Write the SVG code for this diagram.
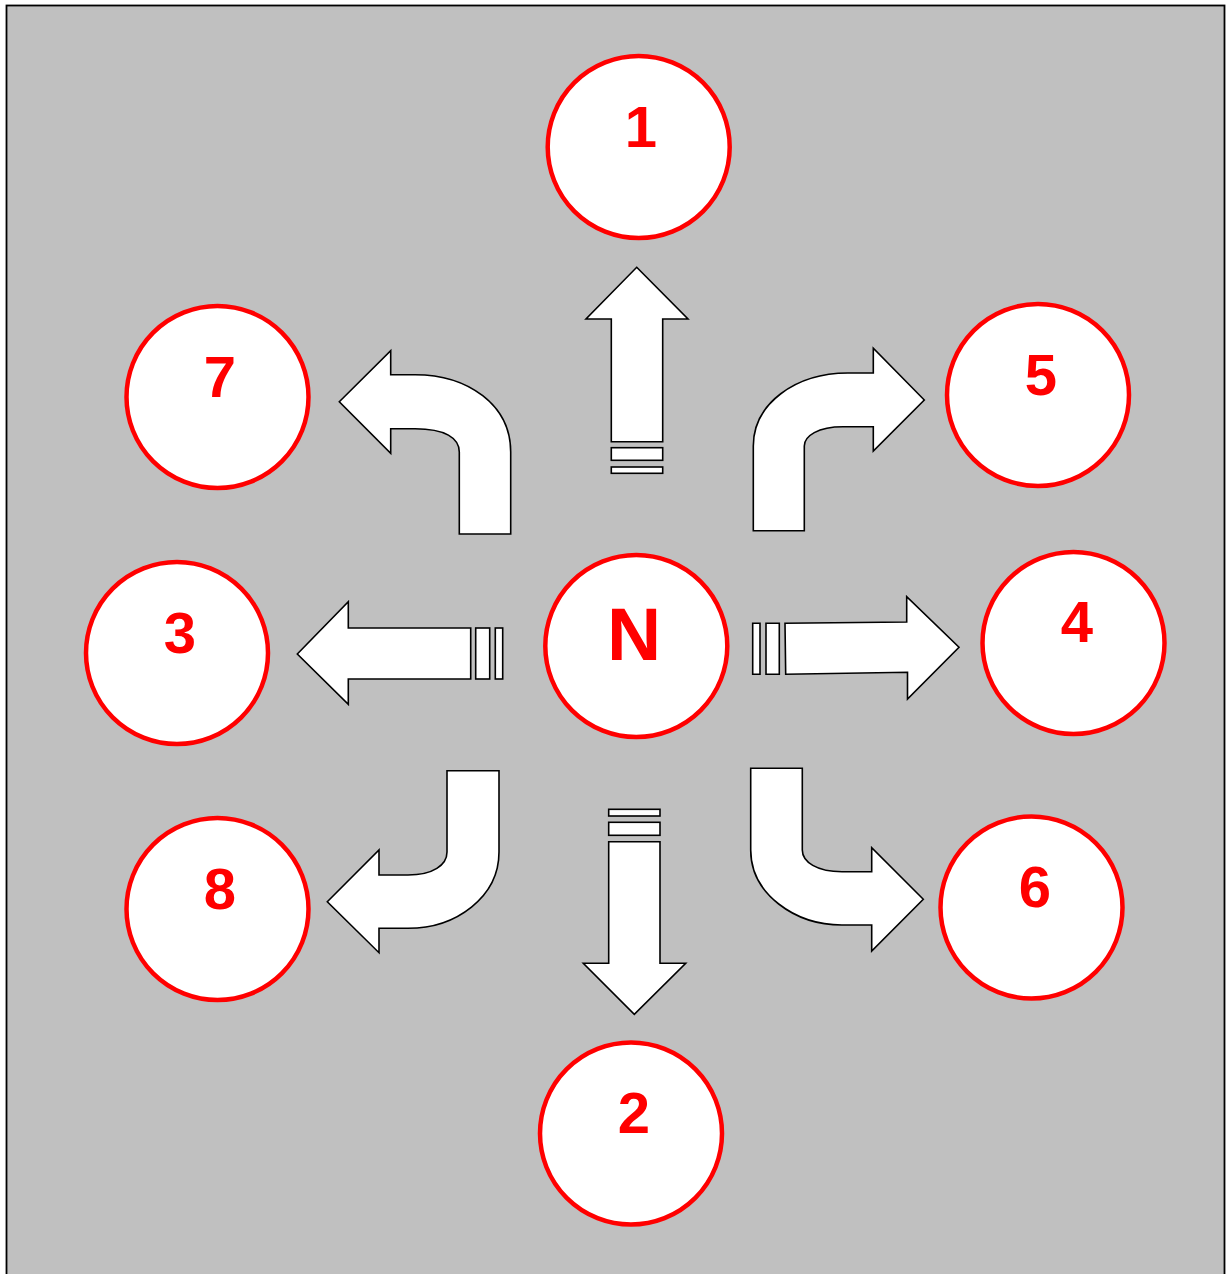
<svg xmlns="http://www.w3.org/2000/svg" width="1226" height="1274" viewBox="0 0 1226 1274">
<style>
.node circle{fill:#fff;stroke:#ff0000;stroke-width:4.5}
.node text{font-family:"Liberation Sans",Arial,sans-serif;font-weight:bold;fill:#ff0000;text-anchor:middle;font-size:58px}
.arr{fill:#fff;stroke:#000;stroke-width:1.6;stroke-linejoin:miter}
</style>
<rect x="6.5" y="5.5" width="1218" height="1290" fill="#c0c0c0" stroke="#000" stroke-width="1.8"/>
<g id="connectors">
<!-- up to 1 -->
<path class="arr" d="M636.7 267.3 L688 319 L662.7 319 L662.7 441.7 L611.3 441.7 L611.3 319 L586 319 Z"/>
<rect class="arr" x="611.3" y="447.7" width="51.4" height="12.6"/>
<rect class="arr" x="611.3" y="467" width="51.4" height="6.3"/>
<!-- down to 2 -->
<rect class="arr" x="608.7" y="809.3" width="51.3" height="6.7"/>
<rect class="arr" x="608.7" y="822.3" width="51.3" height="13"/>
<path class="arr" d="M608.7 841.7 L660 841.7 L660 963.3 L685.7 963.3 L634.3 1014.3 L583.3 963.3 L608.7 963.3 Z"/>
<!-- left to 3 -->
<path class="arr" d="M297.3 654 L348.3 601.7 L348.3 628 L470.7 628 L470.7 679 L348.3 679 L348.3 704.3 Z"/>
<rect class="arr" x="475.7" y="628" width="14" height="51"/>
<rect class="arr" x="495.3" y="628" width="7.4" height="51"/>
<!-- right to 4 -->
<path class="arr" d="M752.7 623.3 L760 623.3 L760 674.3 L752.7 674.3 Z"/>
<path class="arr" d="M766 623.3 L779.3 623.3 L779.3 674.3 L766 674.3 Z"/>
<path class="arr" d="M785 623.3 L906.7 622 L906.7 596.7 L959 647.3 L907.5 699 L907.5 672.3 L785.7 674.3 Z"/>
<!-- bent to 7 -->
<path class="arr" d="M339.3 401.7 L390.7 350.7 L390.7 374.7 L415 374.7 C468 374.7 510.7 405 510.7 452 L510.7 534 L459.3 534 L459.3 452 C459.3 438 445 428.7 415 428.7 L390.7 428.7 L390.7 453.3 Z"/>
<!-- bent to 5 -->
<path class="arr" d="M924.3 400 L873.3 348.3 L873.3 373 L848 373 C795 373 753.3 404 753.3 446 L753.3 530.7 L804.3 530.7 L804.3 446 C804.3 436 818 426.7 843 426.7 L873.3 426.7 L873.3 451 Z"/>
<!-- bent to 8 -->
<path class="arr" d="M327.3 901.7 L379 850 L379 875 L408 875 C433 875 447 865 447 852 L447 770.7 L499 770.7 L499 852 C499 897 456 928.3 408 928.3 L379 928.3 L379 952.7 Z"/>
<!-- bent to 6 -->
<path class="arr" d="M923.3 899.3 L871.7 847.7 L871.7 871.7 L842 871.7 C817 871.7 802.3 862 802.3 850 L802.3 768.3 L750.7 768.3 L750.7 850 C750.7 894 795 925 842 925 L871.7 925 L871.7 951 Z"/>
</g>
<g id="node-1" class="node"><circle cx="638.7" cy="147" r="91"/><text x="641" y="146.5">1</text></g>
<g id="node-7" class="node"><circle cx="217.5" cy="397" r="91"/><text x="220" y="397">7</text></g>
<g id="node-5" class="node"><circle cx="1038" cy="395" r="91"/><text x="1041" y="395">5</text></g>
<g id="node-3" class="node"><circle cx="177" cy="653" r="91"/><text x="180" y="653">3</text></g>
<g id="node-N" class="node"><circle cx="636.3" cy="646" r="91"/><text x="634" y="660" style="font-size:75px">N</text></g>
<g id="node-4" class="node"><circle cx="1073.5" cy="643" r="91"/><text x="1077" y="642">4</text></g>
<g id="node-8" class="node"><circle cx="217.5" cy="909" r="91"/><text x="220" y="909">8</text></g>
<g id="node-6" class="node"><circle cx="1031.5" cy="907.5" r="91"/><text x="1035" y="907">6</text></g>
<g id="node-2" class="node"><circle cx="631" cy="1133.5" r="91"/><text x="634" y="1133">2</text></g>
</svg>
